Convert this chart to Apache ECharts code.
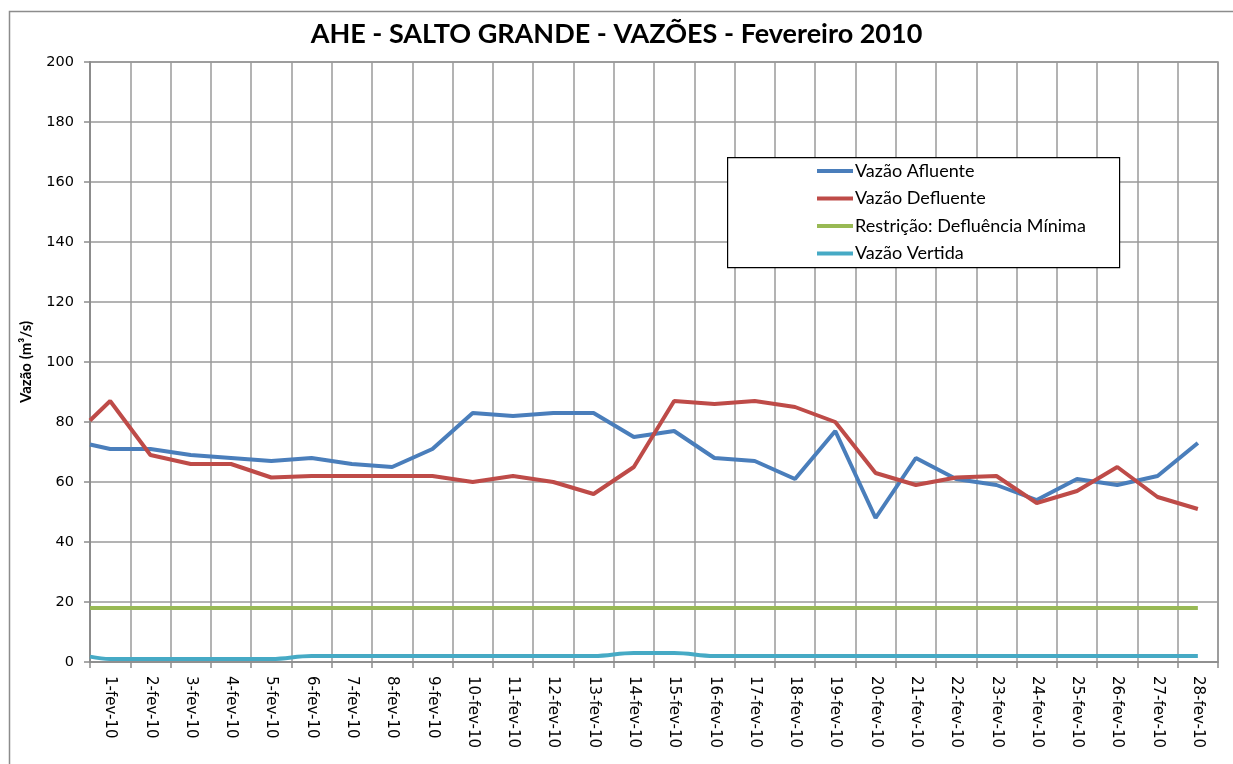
<!DOCTYPE html>
<html>
<head>
<meta charset="utf-8">
<script src="https://cdn.jsdelivr.net/npm/echarts@6/dist/echarts.min.js"></script>
<style>
html,body{margin:0;padding:0;background:#fff;}
#c{width:1233px;height:764px;}
</style>
</head>
<body>
<div id="c"></div>
<script>
const categories = ['1-fev-10','2-fev-10','3-fev-10','4-fev-10','5-fev-10','6-fev-10','7-fev-10','8-fev-10','9-fev-10','10-fev-10','11-fev-10','12-fev-10','13-fev-10','14-fev-10','15-fev-10','16-fev-10','17-fev-10','18-fev-10','19-fev-10','20-fev-10','21-fev-10','22-fev-10','23-fev-10','24-fev-10','25-fev-10','26-fev-10','27-fev-10','28-fev-10'];
// value at the left edge of the plot (start of month), then one value per day
const afluenteStart = 72.5;
const afluente = [71,71,69,68,67,68,66,65,71,83,82,83,83,75,77,68,67,61,77,48,68,61,59,54,61,59,62,73];
const defluenteStart = 80.5;
const defluente = [87,69,66,66,61.5,62,62,62,62,60,62,60,56,65,87,86,87,85,80,63,59,61.5,62,53,57,65,55,51];
const minimaStart = 18;
const minima = [18,18,18,18,18,18,18,18,18,18,18,18,18,18,18,18,18,18,18,18,18,18,18,18,18,18,18,18];
const vertidaStart = 1.8;
const vertida = [1,1,1,1,1,2,2,2,2,2,2,2,2,3,3,2,2,2,2,2,2,2,2,2,2,2,2,2];
const yTicks = [0,20,40,60,80,100,120,140,160,180,200];

function toXY(start, arr){
  const out = [[0, start]];
  arr.forEach((v,i)=>out.push([i+0.5, v]));
  return out;
}

const chart = echarts.init(document.getElementById('c'));
const mk = (name, color, start, arr, smooth) => ({
  name, type:'line', xAxisIndex:1, data: toXY(start, arr),
  showSymbol:false, symbol:'none', smooth: smooth||false,
  lineStyle:{color, width:4}, itemStyle:{color}, animation:false
});
chart.setOption({
  animation:false,
  backgroundColor:'#fff',
  title:{
    text:'AHE - SALTO GRANDE - VAZÕES - Fevereiro 2010',
    left:'center', top:16,
    textStyle:{fontFamily:'Lato', fontWeight:'bold', fontSize:27, color:'#000'}
  },
  graphic:[{
    type:'rect', left:7, top:9, shape:{width:1300, height:900},
    style:{fill:'none', stroke:'#8c8c8c', lineWidth:1.5}, silent:true, z:-1
  },{
    type:'rect', left:727, top:157, shape:{width:392, height:110},
    style:{fill:'#fff', stroke:'#000', lineWidth:1.2}, silent:true, z:5
  }],
  legend:{
    left:817, top:161, orient:'vertical',
    padding:0,
    itemWidth:36, itemHeight:4, itemGap:7.5, icon:'rect', z:10,
    textStyle:{fontFamily:'Lato', fontSize:18, color:'#000', lineHeight:20, padding:[0,0,0,-3]},
    data:['Vazão Afluente','Vazão Defluente','Restrição: Defluência Mínima','Vazão Vertida']
  },
  grid:{left:90, right:15, top:62, bottom:102, show:true, borderColor:'#8c8c8c', borderWidth:1.5},
  xAxis:[{
    type:'category', data:categories, boundaryGap:true,
    axisLine:{lineStyle:{color:'#8c8c8c', width:1.5}},
    axisTick:{show:true, length:6, lineStyle:{color:'#8c8c8c', width:1.5}},
    splitLine:{show:true, lineStyle:{color:'#9a9a9a', width:1.5}},
    axisLabel:{rotate:-90, fontFamily:'DejaVu Sans', fontSize:15, color:'#000', margin:14, interval:0}
  },{
    type:'value', min:0, max:28, show:false
  }],
  yAxis:{
    type:'value', min:0, max:200, interval:20,
    name:'Vazão (m³/s)', nameLocation:'middle', nameGap:56, nameRotate:90,
    nameTextStyle:{fontFamily:'Lato', fontWeight:'bold', fontSize:15, color:'#000'},
    axisLine:{show:true, lineStyle:{color:'#8c8c8c', width:2}},
    axisTick:{show:true, length:6, lineStyle:{color:'#8c8c8c', width:1.5}},
    splitLine:{show:true, lineStyle:{color:'#9a9a9a', width:1.5}},
    axisLabel:{fontFamily:'DejaVu Sans', fontSize:14.5, color:'#000', margin:16,
      formatter:(v)=> yTicks.includes(v) ? String(v) : ''}
  },
  series:[
    mk('Vazão Afluente','#4a7ebb', afluenteStart, afluente),
    mk('Vazão Defluente','#be4b48', defluenteStart, defluente),
    mk('Restrição: Defluência Mínima','#98b954', minimaStart, minima),
    mk('Vazão Vertida','#46aac5', vertidaStart, vertida, 0.4)
  ]
});
</script>
</body>
</html>
